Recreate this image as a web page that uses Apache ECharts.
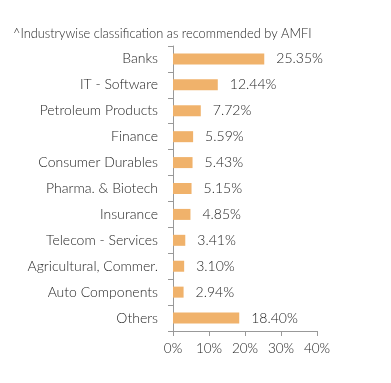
<!DOCTYPE html>
<html><head><meta charset="utf-8">
<script src="https://cdn.jsdelivr.net/npm/echarts@6/dist/echarts.min.js"></script>
<style>html,body{margin:0;padding:0;background:#fff}#c{width:391px;height:383px}</style>
</head><body><div id="c"></div>
<script>
var title = "^Industrywise classification as recommended by AMFI";
var categories = ["Banks","IT - Software","Petroleum Products","Finance","Consumer Durables","Pharma. & Biotech","Insurance","Telecom - Services","Agricultural, Commer.","Auto Components","Others"];
var values = [25.35,12.44,7.72,5.59,5.43,5.15,4.85,3.41,3.10,2.94,18.40];
var xTicks = [0,10,20,30,40];

var chart = echarts.init(document.getElementById('c'));
chart.setOption({
  animation:false,
  title:{text:title,left:8,top:22,textStyle:{fontFamily:'Lato',fontSize:12.8,fontWeight:300,color:'#1e1e1e'}},
  grid:{left:173,right:74,top:46,bottom:52,containLabel:false},
  xAxis:{type:'value',min:xTicks[0],max:xTicks[xTicks.length-1],interval:10,
    axisLine:{show:true,lineStyle:{color:'#999'}},
    axisTick:{show:true,length:5,lineStyle:{color:'#999'}},
    splitLine:{show:false},
    axisLabel:{formatter:'{value}%',margin:11,fontFamily:'Lato',fontSize:13.5,fontWeight:300,color:'#1e1e1e'}},
  yAxis:{type:'category',inverse:true,data:categories,
    axisLine:{show:true,lineStyle:{color:'#999'}},
    axisTick:{show:true,length:5,lineStyle:{color:'#999'}},
    axisLabel:{margin:15,fontFamily:'Lato',fontSize:14,fontWeight:300,color:'#1e1e1e'}},
  series:[{type:'bar',data:values,barWidth:11,itemStyle:{color:'#f0b26b'},
    label:{show:true,position:'right',distance:12,formatter:function(p){return p.value.toFixed(2)+'%';},
      fontFamily:'Lato',fontSize:14,fontWeight:300,color:'#1e1e1e'}}]
});
</script></body></html>
